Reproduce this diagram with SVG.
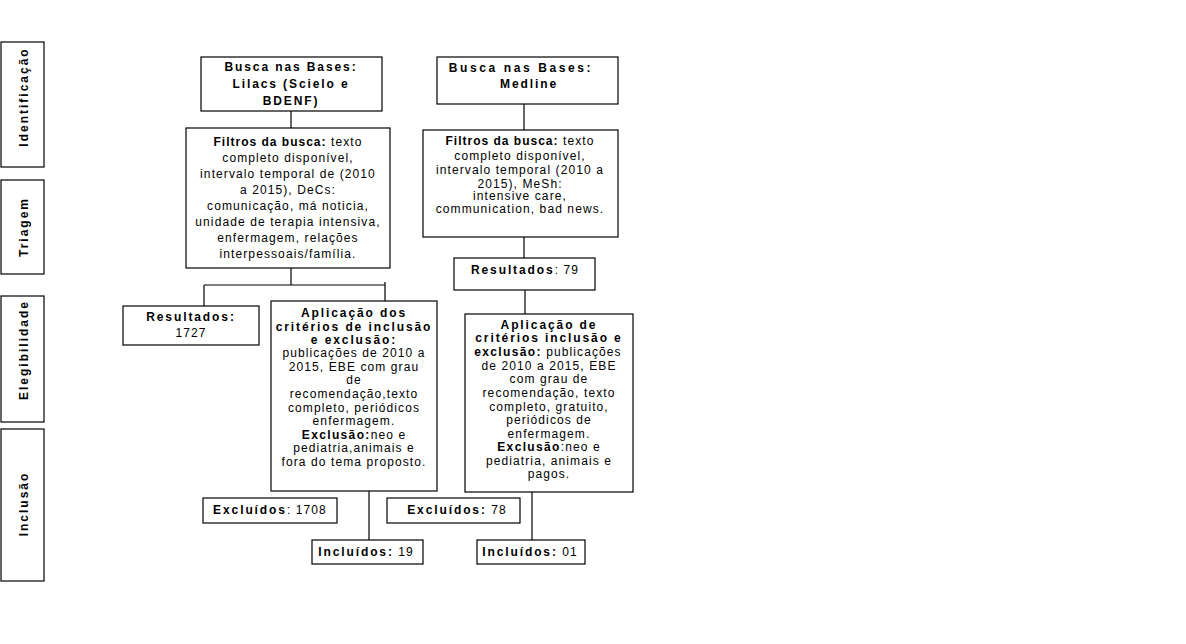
<svg xmlns="http://www.w3.org/2000/svg" width="1186" height="644" viewBox="0 0 1186 644">
<style>
.box{fill:#fff;stroke:#000;stroke-width:1.2}
.ln{fill:none;stroke:#000;stroke-width:1.2}
text{font-family:"Liberation Sans",Arial,sans-serif;font-size:12px;fill:#000;text-anchor:middle;letter-spacing:1.1px}
.b{font-weight:bold;letter-spacing:1.9px}
.bf{font-weight:bold;letter-spacing:1px}
.be{font-weight:bold;letter-spacing:1.35px}
.bw{font-weight:bold;letter-spacing:2.6px}
.side{font-weight:bold;letter-spacing:2px}
</style>
<rect width="1186" height="644" fill="#fff"/>
<g id="stages">
<g id="stage-identificacao"><rect class="box" x="1" y="42" width="43" height="125"/><text class="side" transform="translate(28,97) rotate(-90)">Identificação</text></g>
<g id="stage-triagem"><rect class="box" x="1" y="180" width="43" height="94"/><text class="side" transform="translate(28,227) rotate(-90)">Triagem</text></g>
<g id="stage-elegibilidade"><rect class="box" x="1" y="296" width="43" height="126"/><text class="side" transform="translate(28,350) rotate(-90)">Elegibilidade</text></g>
<g id="stage-inclusao"><rect class="box" x="1" y="429" width="43" height="152"/><text class="side" transform="translate(28,504) rotate(-90)">Inclusão</text></g>
</g>
<g id="connectors">
<path class="ln" d="M291 111V128"/>
<path class="ln" d="M524 104V130"/>
<path class="ln" d="M291 268V285M204 285H385M204 285V306M385 282V301"/>
<path class="ln" d="M524 237V258"/>
<path class="ln" d="M525 290V314"/>
<path class="ln" d="M369 491V540"/>
<path class="ln" d="M532 492V540"/>
</g>
<g id="busca-lilacs"><rect class="box" x="201" y="57" width="181" height="54"/>
<text class="b" x="291" y="71">Busca nas Bases:</text>
<text class="b" x="291" y="88">Lilacs (Scielo e</text>
<text class="b" x="291" y="105">BDENF)</text></g>
<g id="busca-medline"><rect class="box" x="437" y="57" width="181" height="47"/>
<text class="bw" x="521" y="72">Busca nas Bases:</text>
<text class="b" x="529" y="88">Medline</text></g>
<g id="filtros-lilacs"><rect class="box" x="186" y="128" width="204" height="140"/>
<text x="288" y="146"><tspan class="bf">Filtros da busca:</tspan> texto</text>
<text x="288" y="162">completo disponível,</text>
<text x="288" y="178">intervalo temporal de (2010</text>
<text x="288" y="194">a 2015), DeCs:</text>
<text x="288" y="210">comunicação, má noticia,</text>
<text x="288" y="226">unidade de terapia intensiva,</text>
<text x="288" y="242">enfermagem, relações</text>
<text x="288" y="258">interpessoais/família.</text></g>
<g id="filtros-medline"><rect class="box" x="423" y="130" width="195" height="107"/>
<text x="520" y="145"><tspan class="bf">Filtros da busca:</tspan> texto</text>
<text x="520" y="160">completo disponível,</text>
<text x="520" y="174">intervalo temporal (2010 a</text>
<text x="520" y="188">2015), MeSh:</text>
<text x="520" y="200">intensive care,</text>
<text x="520" y="213">communication, bad news.</text></g>
<g id="resultados-79"><rect class="box" x="454" y="258" width="141" height="32"/>
<text x="525" y="274"><tspan class="b">Resultados</tspan>: 79</text></g>
<g id="resultados-1727"><rect class="box" x="123" y="306" width="136" height="39"/>
<text class="b" x="191" y="321">Resultados:</text>
<text x="191" y="337">1727</text></g>
<g id="aplicacao-lilacs"><rect class="box" x="271" y="301" width="166" height="190"/>
<text class="b" x="354" y="317">Aplicação dos</text>
<text class="b" x="354" y="331">critérios de inclusão</text>
<text class="b" x="354" y="344">e exclusão:</text>
<text x="354" y="357">publicações de 2010 a</text>
<text x="354" y="371">2015, EBE com grau</text>
<text x="354" y="384">de</text>
<text x="354" y="398">recomendação,texto</text>
<text x="354" y="412">completo, periódicos</text>
<text x="354" y="425">enfermagem.</text>
<text x="354" y="439"><tspan class="be">Exclusão:</tspan>neo e</text>
<text x="354" y="452">pediatria,animais e</text>
<text x="354" y="466">fora do tema proposto.</text></g>
<g id="aplicacao-medline"><rect class="box" x="465" y="314" width="168" height="178"/>
<text class="b" x="549" y="329">Aplicação de</text>
<text class="b" x="549" y="342">critérios inclusão e</text>
<text x="548" y="356"><tspan class="be">exclusão:</tspan> publicações</text>
<text x="549" y="370">de 2010 a 2015, EBE</text>
<text x="549" y="383">com grau de</text>
<text x="549" y="397">recomendação, texto</text>
<text x="549" y="411">completo, gratuito,</text>
<text x="549" y="424">periódicos de</text>
<text x="549" y="438">enfermagem.</text>
<text x="549" y="451"><tspan class="be">Exclusão</tspan>:neo e</text>
<text x="549" y="465">pediatria, animais e</text>
<text x="549" y="478">pagos.</text></g>
<g id="excluidos-1708"><rect class="box" x="203" y="498" width="134" height="25"/>
<text x="270" y="514"><tspan class="b">Excluídos</tspan>: 1708</text></g>
<g id="excluidos-78"><rect class="box" x="387" y="498" width="133" height="25"/>
<text x="457" y="514"><tspan class="b">Excluídos:</tspan> 78</text></g>
<g id="incluidos-19"><rect class="box" x="312" y="540" width="111" height="24"/>
<text x="366" y="556"><tspan class="b">Incluídos:</tspan> 19</text></g>
<g id="incluidos-01"><rect class="box" x="477" y="540" width="108" height="24"/>
<text x="530" y="556"><tspan class="b">Incluídos:</tspan> 01</text></g>
</svg>
